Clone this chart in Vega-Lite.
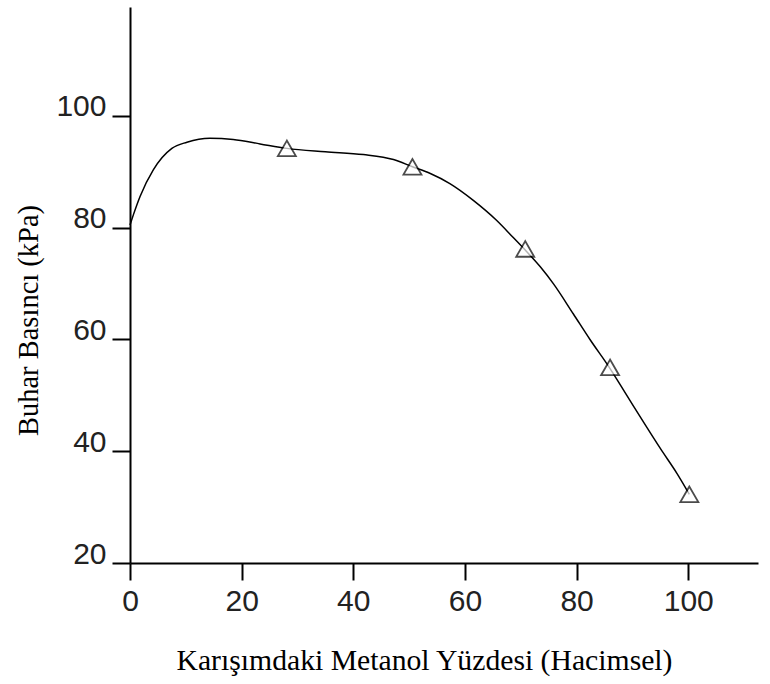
{
  "$schema": "https://vega.github.io/schema/vega-lite/v6.json",
  "width": 628,
  "height": 556,
  "autosize": {"type": "none"},
  "padding": {"left": 130, "top": 7, "right": 12, "bottom": 121},
  "background": "white",
  "config": {"view": {"stroke": null}},
  "datasets": {
    "curve": [
      {"x": 0, "y": 80.5}, {"x": 0.6, "y": 82.3}, {"x": 1.8, "y": 85.6}, {"x": 4.2, "y": 90.4},
      {"x": 7.5, "y": 94.2}, {"x": 10.2, "y": 95.3}, {"x": 14.3, "y": 96.0}, {"x": 18.5, "y": 95.8},
      {"x": 23.3, "y": 95.0}, {"x": 28.1, "y": 94.2}, {"x": 35, "y": 93.6}, {"x": 41.8, "y": 93.1},
      {"x": 47.2, "y": 92.2}, {"x": 50.6, "y": 90.9}, {"x": 53.8, "y": 89.7}, {"x": 57.3, "y": 87.9},
      {"x": 61.5, "y": 84.9}, {"x": 65.7, "y": 81.3}, {"x": 68.7, "y": 78.2}, {"x": 70.8, "y": 76.0},
      {"x": 73.5, "y": 73.0}, {"x": 75.9, "y": 69.9}, {"x": 79.4, "y": 64.6}, {"x": 82.4, "y": 60.0},
      {"x": 86.0, "y": 54.8}, {"x": 89.0, "y": 50.0}, {"x": 92.0, "y": 45.2}, {"x": 95.0, "y": 40.5},
      {"x": 98.0, "y": 36.0}, {"x": 100.2, "y": 32.3}
    ],
    "points": [
      {"x": 28.1, "y": 94.2}, {"x": 50.6, "y": 90.9}, {"x": 70.8, "y": 76.2},
      {"x": 86.0, "y": 55.0}, {"x": 100.2, "y": 32.3}
    ]
  },
  "layer": [
    {
      "data": {"name": "curve"},
      "mark": {"type": "line", "interpolate": "monotone", "color": "black", "strokeWidth": 1.5},
      "encoding": {
        "x": {
          "field": "x", "type": "quantitative",
          "scale": {"domain": [0, 112.5], "nice": false, "zero": false},
          "axis": {
            "title": "Karışımdaki Metanol Yüzdesi (Hacimsel)",
            "values": [0, 20, 40, 60, 80, 100],
            "grid": false,
            "domainColor": "black", "domainWidth": 2,
            "tickColor": "black", "tickWidth": 2, "tickSize": 17,
            "labelFont": "Liberation Sans", "labelFontSize": 30, "labelColor": "#222",
            "labelPadding": 6, "labelFlush": false,
            "titleFont": "Liberation Serif", "titleFontSize": 29.7, "titleFontWeight": "normal",
            "titleColor": "black", "titleBaseline": "alphabetic",
            "titleX": 294, "titleY": 106
          }
        },
        "y": {
          "field": "y", "type": "quantitative",
          "scale": {"domain": [20, 119.5], "nice": false, "zero": false},
          "axis": {
            "title": "Buhar Basıncı (kPa)",
            "values": [20, 40, 60, 80, 100],
            "grid": false,
            "domainColor": "black", "domainWidth": 2,
            "tickColor": "black", "tickWidth": 2, "tickSize": 18,
            "labelFont": "Liberation Sans", "labelFontSize": 30, "labelColor": "#222",
            "labelPadding": 6, "labelBaseline": "alphabetic", "labelFlush": false,
            "titleFont": "Liberation Serif", "titleFontSize": 28.5, "titleFontWeight": "normal",
            "titleColor": "black", "titleBaseline": "alphabetic",
            "titleX": -93, "titleY": 313
          }
        }
      }
    },
    {
      "data": {"name": "points"},
      "mark": {"type": "point", "shape": "triangle-up", "size": 324, "filled": true, "fill": "white", "stroke": "black", "strokeWidth": 1.8},
      "encoding": {
        "x": {"field": "x", "type": "quantitative"},
        "y": {"field": "y", "type": "quantitative"}
      }
    }
  ]
}
